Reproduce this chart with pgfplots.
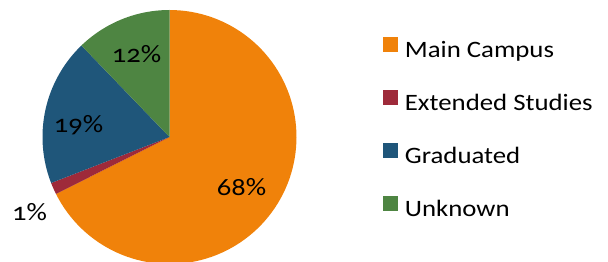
\documentclass[border=0pt]{standalone}
\usepackage{fontspec}
\setmainfont{Carlito}[Numbers=OldStyle, FakeStretch=1.14]
\usepackage{pgfplots}
\pgfplotsset{compat=1.18}
\definecolor{cMain}{HTML}{F0820A}
\definecolor{cExt}{HTML}{9E2A3A}
\definecolor{cGrad}{HTML}{1F567A}
\definecolor{cUnk}{HTML}{4E8542}
% data (percent)
\def\vMain{67.6}\def\vExt{1.5}\def\vGrad{18.7}\def\vUnk{12.2}
\pgfmathsetmacro\aA{90}
\pgfmathsetmacro\aB{\aA-3.6*\vMain}
\pgfmathsetmacro\aC{\aB-3.6*\vExt}
\pgfmathsetmacro\aD{\aC-3.6*\vGrad}
\pgfmathsetmacro\aE{\aD-3.6*\vUnk}
\pgfmathsetmacro\sMain{(\aA-\aB)/100}\pgfmathsetmacro\lMain{\aB-\sMain}
\pgfmathsetmacro\sExt{(\aB-\aC)/100}\pgfmathsetmacro\lExt{\aC-\sExt}
\pgfmathsetmacro\sGrad{(\aC-\aD)/100}\pgfmathsetmacro\lGrad{\aD-\sGrad}
\pgfmathsetmacro\sUnk{(\aD-\aE)/100}\pgfmathsetmacro\lUnk{\aE-\sUnk}
\def\cx{169.5}\def\cy{125}\def\rr{127}
\begin{document}
\begin{tikzpicture}
\begin{axis}[
  width=608pt, height=262pt, scale only axis,
  xmin=0, xmax=608, ymin=0, ymax=262,
  hide axis,
  legend image code/.code={\fill[#1] (0pt,0pt) rectangle (15pt,15pt);},
  legend cell align=left,
  legend style={at={(axis cs:382.7,225)}, anchor=north west, draw=none, fill=none,
    inner sep=0pt, row sep=28pt, column sep=7pt,
    font=\fontsize{23.5}{23.5}\selectfont,
    nodes={inner sep=0pt, text height=15pt, text depth=5pt}},
]
\path (axis cs:0,0) rectangle (axis cs:608,262);
\addplot[fill=cMain, draw=none, domain=\lMain:\aA, samples=102]
  ({ifthenelse(x<\aB-\sMain/2, \cx, \cx+\rr*cos(x))},{ifthenelse(x<\aB-\sMain/2, \cy, \cy+\rr*sin(x))});
\addlegendentry{Main Campus}
\addplot[fill=cExt, draw=none, domain=\lExt:\aB, samples=102]
  ({ifthenelse(x<\aC-\sExt/2, \cx, \cx+\rr*cos(x))},{ifthenelse(x<\aC-\sExt/2, \cy, \cy+\rr*sin(x))});
\addlegendentry{Extended Studies}
\addplot[fill=cGrad, draw=none, domain=\lGrad:\aC, samples=102]
  ({ifthenelse(x<\aD-\sGrad/2, \cx, \cx+\rr*cos(x))},{ifthenelse(x<\aD-\sGrad/2, \cy, \cy+\rr*sin(x))});
\addlegendentry{Graduated}
\addplot[fill=cUnk, draw=none, domain=\lUnk:\aD, samples=102]
  ({ifthenelse(x<\aE-\sUnk/2, \cx, \cx+\rr*cos(x))},{ifthenelse(x<\aE-\sUnk/2, \cy, \cy+\rr*sin(x))});
\addlegendentry{Unknown}
\node[font=\fontsize{25}{25}\selectfont] at (axis cs:241.5,75) {68\%};
\node[font=\fontsize{25}{25}\selectfont] at (axis cs:78.5,137) {19\%};
\node[font=\fontsize{25}{25}\selectfont] at (axis cs:136.5,207.5) {12\%};
\node[font=\fontsize{25}{25}\selectfont] at (axis cs:29.5,49.5) {1\%};
\end{axis}
\end{tikzpicture}
\end{document}
